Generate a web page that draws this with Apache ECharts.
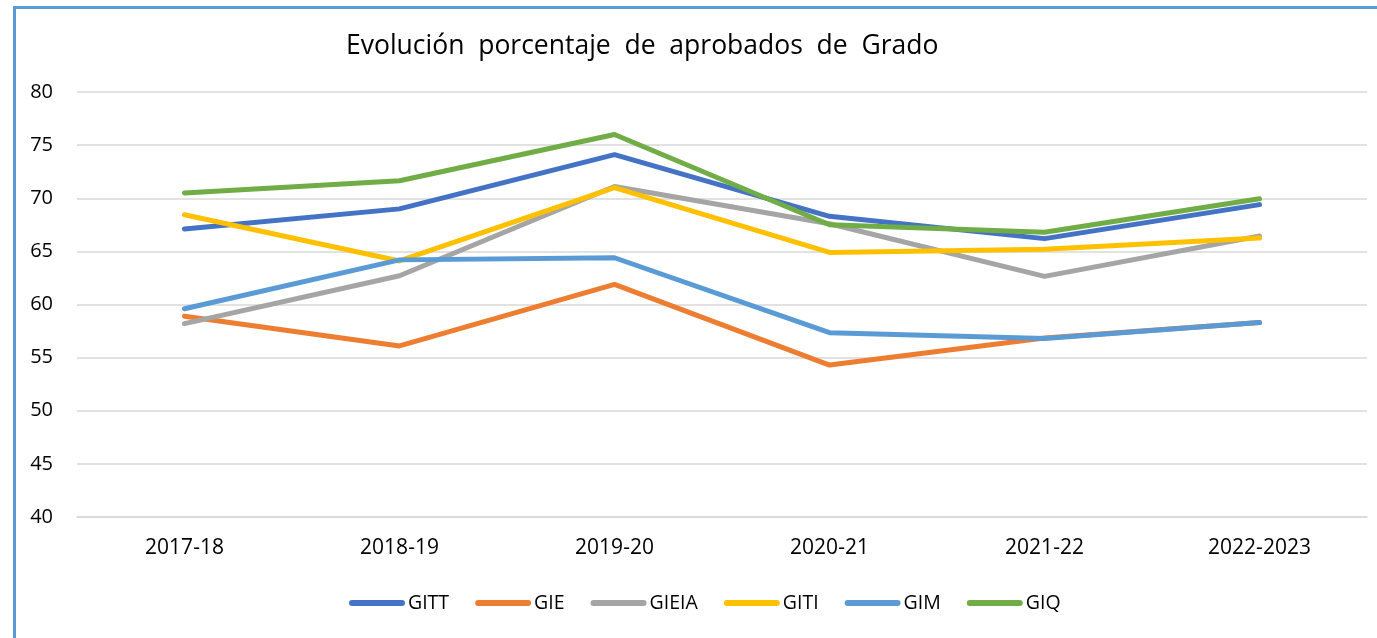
<!DOCTYPE html>
<html><head><meta charset="utf-8">
<script src="https://cdn.jsdelivr.net/npm/echarts@6/dist/echarts.min.js"></script>
<style>html,body{margin:0;padding:0;background:#fff;}#c{width:1377px;height:638px;}</style>
</head><body><div id="c"></div>
<script>
const categories = ['2017-18','2018-19','2019-20','2020-21','2021-22','2022-2023'];
const GITT  = [67.1, 69.0, 74.1, 68.3, 66.2, 69.4];
const GIE   = [58.9, 56.1, 61.9, 54.3, 56.85, 58.3];
const GIEIA = [58.2, 62.7, 71.1, 67.6, 62.65, 66.45];
const GITI  = [68.45, 64.1, 71.0, 64.9, 65.2, 66.25];
const GIM   = [59.6, 64.2, 64.4, 57.35, 56.8, 58.3];
const GIQ   = [70.5, 71.65, 76.0, 67.5, 66.8, 69.95];
const names = ['GITT','GIE','GIEIA','GITI','GIM','GIQ'];
const values = [GITT, GIE, GIEIA, GITI, GIM, GIQ];
const colors = ['#4472C4','#ED7D31','#A5A5A5','#FFC000','#5B9BD5','#70AD47'];
const yTicks = [40,45,50,55,60,65,70,75,80];

const font = 'Open Sans';
const capsule = 'path://M3,0 L53,0 A3,3 0 0 1 53,6 L3,6 A3,3 0 0 1 3,0 Z';
const chart = echarts.init(document.getElementById('c'));
chart.setOption({
  animation: false,
  title: {
    text: 'Evolución  porcentaje  de  aprobados  de  Grado',
    left: 341, top: 28,
    textStyle: {fontFamily: font, fontSize: 26.5, fontWeight: 'normal', color: '#000'}
  },
  graphic: [{
    type: 'rect', left: 12, top: 5, silent: true,
    shape: {width: 1400, height: 700},
    style: {fill: 'none', stroke: '#5B9BD5', lineWidth: 3}
  }],
  grid: {left: 77, right: 10, top: 92, bottom: 121},
  legend: {
    top: 588, left: 344,
    icon: capsule,
    itemWidth: 56, itemHeight: 6, itemGap: 26,
    textStyle: {fontFamily: font, fontSize: 19.5, color: '#000', padding: [0,0,0,-2]},
    data: names
  },
  xAxis: {
    type: 'category', data: categories, boundaryGap: true,
    axisLine: {lineStyle: {color: '#D9D9D9', width: 1.5}},
    axisTick: {show: false},
    axisLabel: {fontFamily: font, fontSize: 21, color: '#000', margin: 21}
  },
  yAxis: {
    type: 'value', min: yTicks[0], max: yTicks[yTicks.length-1], interval: 5,
    axisLine: {show: false}, axisTick: {show: false},
    splitLine: {lineStyle: {color: '#D9D9D9', width: 1.5}},
    axisLabel: {fontFamily: font, fontSize: 20, color: '#000', margin: 24}
  },
  series: names.map((n, i) => ({
    name: n, type: 'line', data: values[i],
    symbol: 'none', showSymbol: false,
    color: colors[i],
    lineStyle: {width: 5, color: colors[i], cap: 'round', join: 'round'}
  }))
});
</script></body></html>
